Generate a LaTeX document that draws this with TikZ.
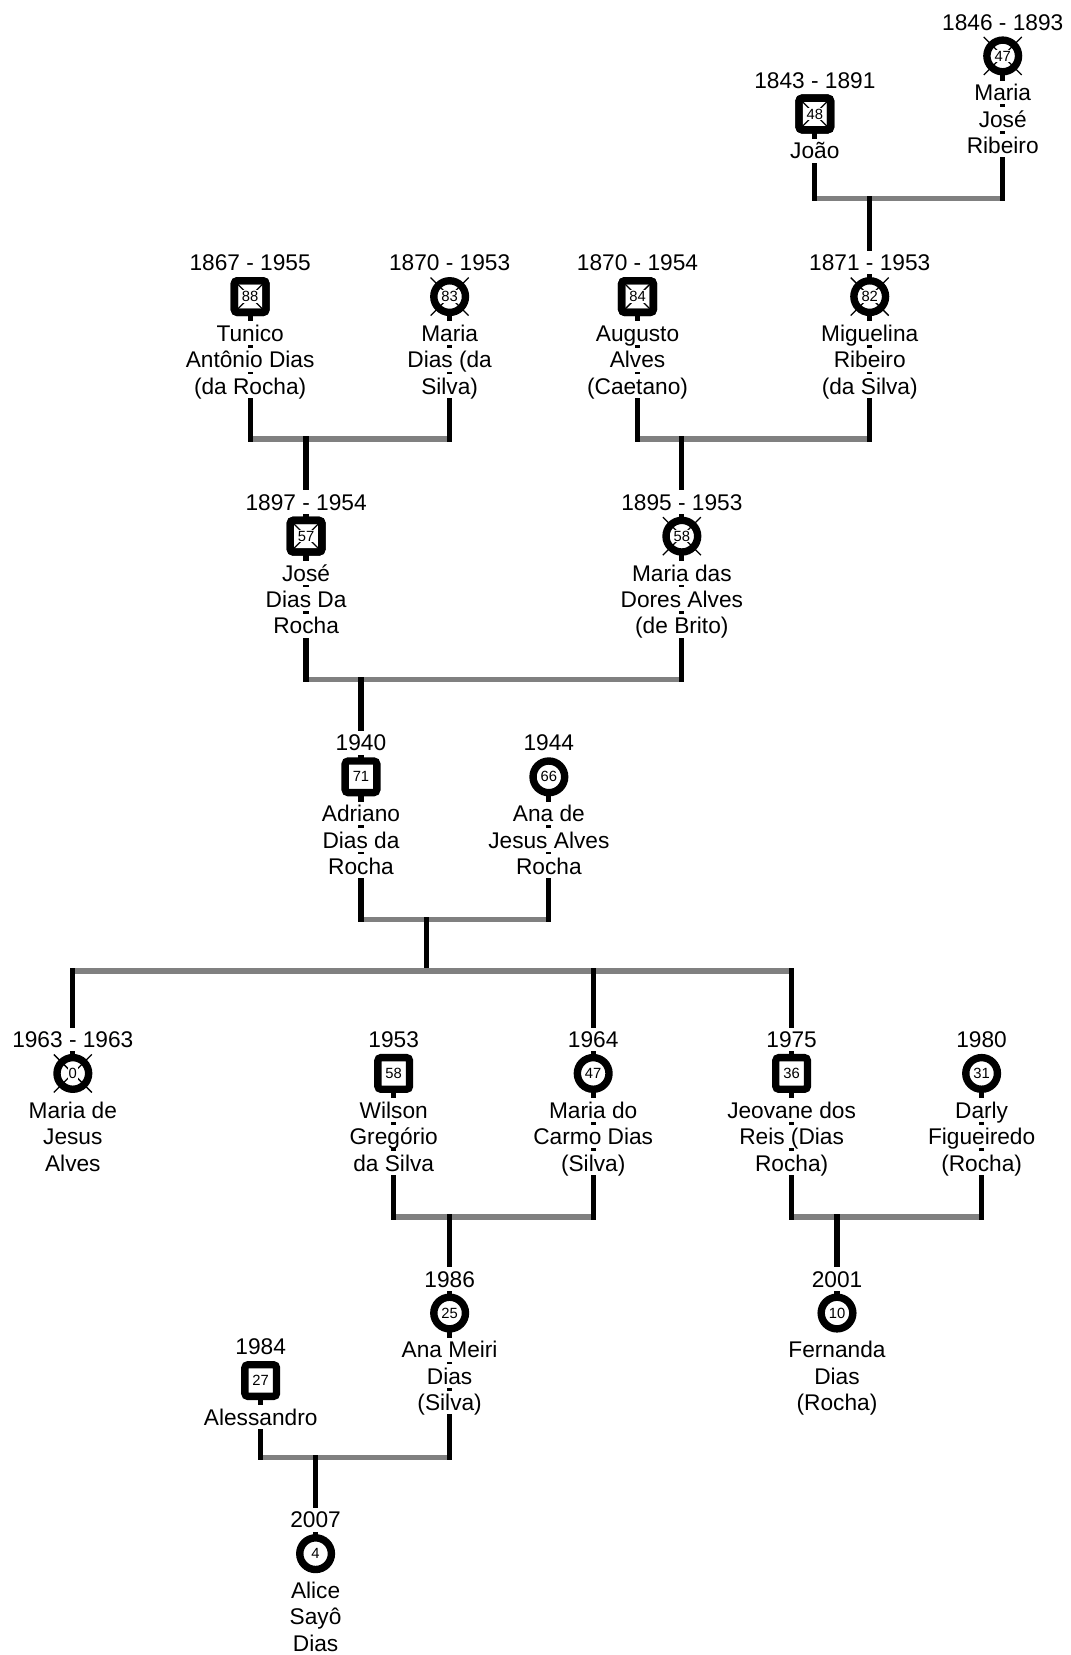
\documentclass[tikz,border=0pt]{standalone}
\usepackage{fontspec}
\setmainfont{Liberation Sans}
\usetikzlibrary{calc}
\definecolor{bargray}{RGB}{128,128,128}
\pgfdeclarelayer{background}
\pgfsetlayers{background,main}
\tikzset{
  vline/.style={line width=5pt, draw=black, line cap=rect},
  hbar/.style={line width=5pt, draw=bargray},
  male/.style={draw, line width=7pt, fill=white, rectangle, rounded corners=3pt, minimum size=30pt, inner sep=0pt},
  female/.style={draw, line width=7pt, fill=white, circle, minimum size=30pt, inner sep=0pt},
  agelbl/.style={fill=white, inner sep=1pt, font=\fontsize{14}{14}\selectfont},
  nameln/.style={fill=white, inner sep=0pt, text height=19pt, text depth=3.5pt, anchor=base, font=\fontsize{21.5}{25}\selectfont},
  deadx/.style={line width=1.2pt, draw=black}
}
% #1 id, #2 x, #3 y, #4 male/female, #5 d=deceased a=alive, #6 age, #7 year, #8 name lines
\newcommand\pers[8]{%
  \node[#4] (#1) at (#2,#3) {};
  \ifx d#5\persdead{#1}{#4}\fi
  \node[agelbl] (#1-age) at (#1) {#6};
  \node[nameln] (#1-yr) at ($(#1)+(0,-24.5)$) {#7};
  \foreach \l [count=\i] in {#8} {\node[nameln] (#1-n\i) at ($(#1)+(0,{42.5+25*(\i-1)})$) {\l};}
}
\newcommand\persdead[2]{%
  \def\tmpmale{male}\def\tmpsex{#2}%
  \ifx\tmpsex\tmpmale
    \draw[deadx] ($(#1)+(-12,-12)$) -- ($(#1)+(12,12)$);
    \draw[deadx] ($(#1)+(-12,12)$) -- ($(#1)+(12,-12)$);
    \node[male, fill=none] (#1-frame) at (#1) {};
  \else
    \draw[deadx] ($(#1)+(-18,-18)$) -- ($(#1)+(18,18)$);
    \draw[deadx] ($(#1)+(-18,18)$) -- ($(#1)+(18,-18)$);
  \fi
}
\begin{document}
\begin{tikzpicture}[x=1pt, y=-1pt]
\path[use as bounding box] (0,0) rectangle (1014,1568);

\pers{joao}{772}{108}{male}{d}{48}{1843 - 1891}{João}
\pers{mjr}{950}{53}{female}{d}{47}{1846 - 1893}{Maria,José,Ribeiro}

\pers{tunico}{237}{281}{male}{d}{88}{1867 - 1955}{Tunico,Antônio Dias,(da Rocha)}
\pers{mariadias}{426}{281}{female}{d}{83}{1870 - 1953}{Maria,Dias (da,Silva)}
\pers{augusto}{604}{281}{male}{d}{84}{1870 - 1954}{Augusto,Alves,(Caetano)}
\pers{miguelina}{824}{281}{female}{d}{82}{1871 - 1953}{Miguelina,Ribeiro,(da Silva)}

\pers{jose}{290}{508}{male}{d}{57}{1897 - 1954}{José,Dias Da,Rocha}
\pers{dores}{646}{508}{female}{d}{58}{1895 - 1953}{Maria das,Dores Alves,(de Brito)}

\pers{adriano}{342}{736}{male}{a}{71}{1940}{Adriano,Dias da,Rocha}
\pers{ana}{520}{736}{female}{a}{66}{1944}{Ana  de,Jesus Alves,Rocha}

\pers{mjesus}{69}{1017}{female}{d}{0}{1963 - 1963}{Maria de,Jesus,Alves}
\pers{wilson}{373}{1017}{male}{a}{58}{1953}{Wilson,Gregório,da Silva}
\pers{mcarmo}{562}{1017}{female}{a}{47}{1964}{Maria do,Carmo Dias,(Silva)}
\pers{jeovane}{750}{1017}{male}{a}{36}{1975}{Jeovane dos,Reis (Dias,Rocha)}
\pers{darly}{930}{1017}{female}{a}{31}{1980}{Darly,Figueiredo,(Rocha)}

\pers{anameiri}{426}{1244}{female}{a}{25}{1986}{Ana Meiri,Dias,(Silva)}
\pers{fernanda}{793}{1244}{female}{a}{10}{2001}{Fernanda,Dias,(Rocha)}
\pers{alessandro}{247}{1308}{male}{a}{27}{1984}{Alessandro}

\pers{alice}{299}{1472}{female}{a}{4}{2007}{Alice,Sayô,Dias}

\begin{pgfonlayer}{background}
\fill[white] (0,0) rectangle (1014,1568);
% couple A
\coordinate (mA) at (miguelina |- 0,188);
\draw[hbar] (joao |- mA) -- (mjr |- mA);
\draw[vline] (joao) -- (joao |- mA);
\draw[vline] (mjr) -- (mjr |- mA);
\draw[vline] (mA) -- (miguelina);
% couple B
\coordinate (mB) at (jose |- 0,416);
\draw[hbar] (tunico |- mB) -- (mariadias |- mB);
\draw[vline] (tunico) -- (tunico |- mB);
\draw[vline] (mariadias) -- (mariadias |- mB);
\draw[vline] (mB) -- (jose);
% couple C
\coordinate (mC) at (dores |- 0,416);
\draw[hbar] (augusto |- mC) -- (miguelina |- mC);
\draw[vline] (augusto) -- (augusto |- mC);
\draw[vline] (miguelina) -- (miguelina |- mC);
\draw[vline] (mC) -- (dores);
% couple D
\coordinate (mD) at (adriano |- 0,644);
\draw[hbar] (jose |- mD) -- (dores |- mD);
\draw[vline] (jose) -- (jose |- mD);
\draw[vline] (dores) -- (dores |- mD);
\draw[vline] (mD) -- (adriano);
% couple E and siblings
\coordinate (mE) at (404,871);
\coordinate (sib) at (404,920);
\draw[hbar] (adriano |- mE) -- (ana |- mE);
\draw[vline] (adriano) -- (adriano |- mE);
\draw[vline] (ana) -- (ana |- mE);
\draw[vline] (mE) -- (sib);
\draw[hbar] (mjesus |- sib) -- (jeovane |- sib);
\draw[vline] (mjesus |- sib) -- (mjesus);
\draw[vline] (mcarmo |- sib) -- (mcarmo);
\draw[vline] (jeovane |- sib) -- (jeovane);
% couple F
\coordinate (mF) at (anameiri |- 0,1153);
\draw[hbar] (wilson |- mF) -- (mcarmo |- mF);
\draw[vline] (wilson) -- (wilson |- mF);
\draw[vline] (mcarmo) -- (mcarmo |- mF);
\draw[vline] (mF) -- (anameiri);
% couple G
\coordinate (mG) at (fernanda |- 0,1153);
\draw[hbar] (jeovane |- mG) -- (darly |- mG);
\draw[vline] (jeovane) -- (jeovane |- mG);
\draw[vline] (darly) -- (darly |- mG);
\draw[vline] (mG) -- (fernanda);
% couple H
\coordinate (mH) at (alice |- 0,1381);
\draw[hbar] (alessandro |- mH) -- (anameiri |- mH);
\draw[vline] (alessandro) -- (alessandro |- mH);
\draw[vline] (anameiri) -- (anameiri |- mH);
\draw[vline] (mH) -- (alice);
\end{pgfonlayer}
\end{tikzpicture}
\end{document}
